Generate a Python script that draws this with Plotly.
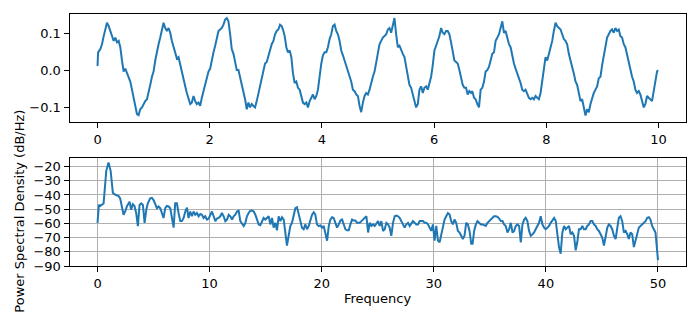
import plotly.graph_objects as go

# ---------------- top panel: signal vs time ----------------
time_s = [
    0.000, 0.010, 0.050, 0.080, 0.110, 0.139, 0.169, 0.199, 0.228, 0.258,
    0.288, 0.317, 0.347, 0.377, 0.406, 0.436, 0.466, 0.495, 0.525, 0.555,
    0.584, 0.614, 0.644, 0.673, 0.703, 0.732, 0.762, 0.792, 0.821, 0.851,
    0.881, 0.910, 0.940, 0.970, 0.999, 1.029, 1.059, 1.088, 1.118, 1.148,
    1.177, 1.207, 1.237, 1.266, 1.296, 1.326, 1.355, 1.385, 1.415, 1.444,
    1.474, 1.504, 1.533, 1.563, 1.592, 1.622, 1.652, 1.681, 1.711, 1.741,
    1.770, 1.800, 1.830, 1.859, 1.889, 1.919, 1.948, 1.978, 2.008, 2.037,
    2.067, 2.097, 2.126, 2.156, 2.186, 2.215, 2.245, 2.275, 2.304, 2.334,
    2.364, 2.393, 2.423, 2.452, 2.482, 2.512, 2.541, 2.571, 2.601, 2.630,
    2.660, 2.690, 2.719, 2.749, 2.779, 2.808, 2.838, 2.868, 2.897, 2.927,
    2.957, 2.986, 3.016, 3.046, 3.075, 3.105, 3.135, 3.164, 3.194, 3.224,
    3.253, 3.283, 3.313,
    3.336, 3.366, 3.395, 3.425, 3.455, 3.484, 3.514, 3.544, 3.573, 3.603,
    3.633, 3.662, 3.692, 3.722, 3.751, 3.781, 3.811, 3.840, 3.870, 3.900,
    3.929, 3.959, 3.989, 4.018, 4.048, 4.078, 4.107, 4.137, 4.166, 4.196,
    4.226, 4.255, 4.285, 4.315, 4.344, 4.374, 4.404, 4.433, 4.463, 4.493,
    4.522, 4.552, 4.582, 4.611, 4.641, 4.671, 4.700, 4.730, 4.760, 4.789,
    4.819, 4.849, 4.878, 4.908, 4.938, 4.967, 4.997, 5.026, 5.056, 5.086,
    5.116, 5.145, 5.175, 5.204, 5.234, 5.264, 5.293, 5.323, 5.353, 5.382,
    5.412, 5.442, 5.471, 5.501, 5.531, 5.560, 5.590, 5.620, 5.649, 5.679,
    5.709, 5.738, 5.768, 5.798, 5.827, 5.857, 5.886, 5.916, 5.946, 5.975,
    6.005, 6.035, 6.064, 6.094, 6.124, 6.153, 6.183, 6.213, 6.242, 6.272,
    6.302, 6.331, 6.361, 6.391, 6.420, 6.450, 6.480, 6.509, 6.539, 6.569,
    6.598, 6.628, 6.657,
    6.681, 6.711, 6.740, 6.770, 6.800, 6.829, 6.859, 6.889, 6.918, 6.948,
    6.978, 7.007, 7.037, 7.067, 7.096, 7.126, 7.156, 7.185, 7.215, 7.245,
    7.274, 7.304, 7.334, 7.363, 7.393, 7.423, 7.452, 7.482, 7.511, 7.541,
    7.571, 7.600, 7.630, 7.660, 7.689, 7.719, 7.749, 7.778, 7.808, 7.838,
    7.867, 7.897, 7.927, 7.956, 7.986, 8.016, 8.045, 8.075, 8.105, 8.134,
    8.164, 8.194, 8.223, 8.253, 8.283, 8.312, 8.342, 8.371, 8.401, 8.431,
    8.461, 8.490, 8.520, 8.549, 8.579, 8.609, 8.638, 8.668, 8.698, 8.727,
    8.757, 8.787, 8.816, 8.846, 8.876, 8.905, 8.935, 8.965, 8.994, 9.024,
    9.054, 9.083, 9.113, 9.143, 9.172, 9.202, 9.231, 9.261, 9.291, 9.320,
    9.350, 9.380, 9.409, 9.439, 9.469, 9.498, 9.528, 9.558, 9.587, 9.617,
    9.647, 9.676, 9.706, 9.736, 9.765, 9.795, 9.825, 9.854, 9.884, 9.914,
    9.943, 9.973, 9.990,
]

signal = [
    0.011, 0.048, 0.057, 0.070, 0.092, 0.114, 0.128, 0.119, 0.106, 0.092,
    0.079, 0.088, 0.075, 0.079, 0.062, 0.026, -0.004, 0.004, -0.009, -0.018,
    -0.031, -0.053, -0.079, -0.101, -0.119, -0.122, -0.106, -0.101, -0.092, -0.084,
    -0.079, -0.062, -0.040, -0.018, -0.004, 0.026, 0.053, 0.070, 0.088, 0.110,
    0.128, 0.114, 0.106, 0.114, 0.101, 0.079, 0.062, 0.044, 0.031, 0.035,
    0.013, -0.004, -0.026, -0.044, -0.062, -0.079, -0.092, -0.088, -0.070, -0.084,
    -0.092, -0.088, -0.097, -0.075, -0.057, -0.044, -0.026, -0.004, 0.004, 0.031,
    0.048, 0.066, 0.088, 0.106, 0.110, 0.114, 0.123, 0.137, 0.141, 0.132,
    0.097, 0.057, 0.044, 0.018, 0.000, 0.000, -0.018, -0.044, -0.062, -0.079,
    -0.106, -0.088, -0.101, -0.092, -0.097, -0.101, -0.084, -0.062, -0.044, -0.018,
    0.000, 0.018, 0.022, 0.040, 0.057, 0.070, 0.079, 0.097, 0.106, 0.110,
    0.123, 0.119, 0.106,
    0.092, 0.062, 0.048, 0.053, 0.035, -0.009, -0.035, -0.031, -0.048, -0.053,
    -0.070, -0.088, -0.092, -0.088, -0.101, -0.084, -0.075, -0.066, -0.079, -0.070,
    -0.053, -0.009, 0.018, 0.040, 0.048, 0.048, 0.062, 0.084, 0.097, 0.119,
    0.123, 0.106, 0.097, 0.079, 0.053, 0.040, 0.026, 0.009, 0.000, -0.013,
    -0.031, -0.053, -0.057, -0.066, -0.070, -0.097, -0.114, -0.088, -0.070, -0.062,
    -0.066, -0.053, -0.031, -0.018, -0.004, 0.018, 0.044, 0.070, 0.079, 0.088,
    0.092, 0.097, 0.110, 0.114, 0.101, 0.119, 0.141, 0.097, 0.062, 0.066,
    0.053, 0.044, 0.035, 0.009, -0.026, -0.040, -0.048, -0.066, -0.079, -0.101,
    -0.092, -0.053, -0.044, -0.062, -0.048, -0.044, -0.053, -0.035, -0.018, 0.013,
    0.053, 0.066, 0.079, 0.092, 0.114, 0.101, 0.097, 0.106, 0.106, 0.097,
    0.075, 0.044, 0.026, 0.022, 0.018, 0.000, -0.018, -0.040, -0.048, -0.048,
    -0.066, -0.057, -0.062,
    -0.057, -0.075, -0.079, -0.092, -0.101, -0.053, -0.048, -0.031, -0.004, 0.000,
    0.009, 0.026, 0.044, 0.048, 0.079, 0.088, 0.097, 0.114, 0.132, 0.101,
    0.106, 0.088, 0.070, 0.062, 0.035, 0.018, 0.004, -0.009, -0.018, -0.035,
    -0.053, -0.057, -0.053, -0.062, -0.075, -0.079, -0.075, -0.079, -0.070, -0.075,
    -0.079, -0.062, -0.026, 0.000, 0.035, 0.026, 0.044, 0.062, 0.079, 0.106,
    0.128, 0.119, 0.114, 0.110, 0.097, 0.084, 0.079, 0.070, 0.044, 0.026,
    0.013, -0.009, -0.031, -0.040, -0.062, -0.084, -0.079, -0.097, -0.123, -0.106,
    -0.114, -0.092, -0.075, -0.062, -0.053, -0.044, -0.022, -0.018, 0.013, 0.035,
    0.066, 0.088, 0.097, 0.106, 0.110, 0.101, 0.114, 0.106, 0.110, 0.092,
    0.088, 0.070, 0.062, 0.040, 0.022, 0.004, -0.018, -0.031, -0.053, -0.062,
    -0.057, -0.066, -0.088, -0.101, -0.092, -0.070, -0.075, -0.079, -0.084, -0.057,
    -0.026, -0.004, 0.000,
]

# ---------------- bottom panel: PSD ----------------
freq_hz = [
    0.00, 0.12, 0.24, 0.39, 0.54, 0.78, 0.98, 1.17, 1.37, 1.58,
    1.88, 2.02, 2.17, 2.32, 2.47, 2.62, 2.86, 3.00, 3.15, 3.30,
    3.45, 3.60, 3.75, 3.90, 4.05, 4.20, 4.35, 4.49, 4.70, 4.85,
    5.00, 5.15, 5.30, 5.45, 5.60, 5.74, 5.89, 6.04, 6.19, 6.34,
    6.49, 6.64, 6.79, 6.93, 7.08, 7.23, 7.38, 7.53, 7.68, 7.83,
    7.98, 8.12, 8.27, 8.42, 8.57, 8.72, 8.87, 9.02, 9.17, 9.32,
    9.46, 9.61, 9.76, 9.91, 10.06, 10.21, 10.36, 10.51, 10.65, 10.80,
    10.95, 11.10, 11.25, 11.40, 11.55, 11.70, 11.85, 12.00, 12.14, 12.29,
    12.44, 12.59, 12.74, 12.89, 13.04, 13.19, 13.33, 13.48, 13.63, 13.78,
    13.93, 14.08, 14.23, 14.38, 14.52, 14.67, 14.82, 14.97, 15.12, 15.27,
    15.42, 15.57, 15.71, 15.86, 16.01, 16.16, 16.31, 16.46, 16.61, 16.76,
    16.90, 17.05, 17.20, 17.35, 17.50, 17.65, 17.80, 17.95, 18.10, 18.24,
    18.39, 18.54, 18.69, 18.84, 18.99, 19.14, 19.29, 19.43, 19.58, 19.73,
    19.88, 20.03, 20.18, 20.33, 20.48, 20.63, 20.77, 20.92, 21.07, 21.22,
    21.37, 21.52, 21.67, 21.82, 21.96, 22.11, 22.26, 22.41, 22.56, 22.71,
    22.86, 23.01, 23.15,
    23.39, 23.54, 23.69, 23.84, 23.99, 24.14, 24.28, 24.43, 24.58, 24.73,
    24.88, 25.03, 25.17, 25.32, 25.47, 25.62, 25.77, 25.92, 26.06, 26.21,
    26.36, 26.51, 26.66, 26.81, 26.95, 27.10, 27.25, 27.40, 27.55, 27.70,
    27.85, 27.99, 28.14, 28.29, 28.44, 28.59, 28.74, 28.88, 29.03, 29.18,
    29.33, 29.48, 29.63, 29.77, 29.92, 30.07, 30.22, 30.37, 30.52, 30.66,
    30.81, 30.96, 31.11, 31.26, 31.41, 31.55, 31.70, 31.85, 32.00, 32.15,
    32.30, 32.45, 32.59, 32.74, 32.89, 33.04, 33.19, 33.34,
    33.46, 33.60, 33.75, 33.90, 34.05, 34.20, 34.35, 34.49, 34.64, 34.79,
    34.94, 35.09, 35.24, 35.38, 35.53, 35.68, 35.83, 35.98, 36.13, 36.27,
    36.42, 36.57, 36.72, 36.87, 37.02, 37.17, 37.31, 37.46, 37.61, 37.76,
    37.91, 38.06, 38.20, 38.35, 38.50, 38.65, 38.80, 38.95, 39.09, 39.24,
    39.39, 39.54, 39.69, 39.84, 39.98, 40.13, 40.28, 40.43, 40.58, 40.73,
    40.88, 41.02, 41.17, 41.32, 41.47, 41.62, 41.77, 41.91, 42.06, 42.21,
    42.36, 42.51, 42.66, 42.80, 42.95, 43.10, 43.25, 43.40, 43.55, 43.69,
    43.84, 43.99, 44.14, 44.29, 44.44, 44.58, 44.73, 44.88, 45.03, 45.18,
    45.33, 45.48, 45.62, 45.77, 45.92, 46.07, 46.22, 46.37, 46.51, 46.66,
    46.81, 46.96, 47.11, 47.26, 47.40, 47.55, 47.70, 47.85, 48.00, 48.15,
    48.29, 48.44, 48.59, 48.74, 48.89, 49.04, 49.19, 49.33, 49.48, 49.63,
    49.78, 50.00,
]

psd_db = [
    -59.6, -47.0, -47.7, -46.5, -46.0, -23.0, -17.2, -23.0, -38.5, -39.7,
    -40.8, -42.4, -48.0, -53.9, -51.6, -48.0, -44.7, -50.4, -46.5, -47.7,
    -52.7, -61.9, -47.0, -45.9, -47.0, -59.6, -50.4, -45.9, -42.4, -42.0,
    -43.6, -47.0, -49.3, -48.1, -49.3, -52.7, -56.2, -49.3, -47.7, -48.1,
    -49.3, -56.2, -63.0, -45.9, -45.9, -52.7, -58.4, -58.4, -56.2, -51.6,
    -48.9, -56.2, -51.6, -55.0, -51.6, -53.9, -52.7, -55.0, -53.4, -53.9,
    -56.2, -55.0, -57.3, -56.6, -53.9, -51.6, -55.0, -58.4, -56.6, -56.2,
    -55.0, -52.7, -55.0, -58.4, -57.3, -53.9, -55.0, -57.3, -55.0, -53.9,
    -51.6, -51.1, -58.4, -60.7, -61.9, -59.6, -55.0, -52.7, -51.1, -50.9,
    -51.6, -53.9, -57.3, -60.7, -61.2, -58.4, -56.2, -57.3, -56.2, -55.0,
    -60.7, -56.2, -63.0, -59.6, -64.9, -55.0, -58.4, -55.7, -57.3, -67.6,
    -75.6, -68.7, -61.9, -59.6, -55.0, -49.3, -48.6, -52.7, -58.4, -63.0,
    -64.1, -60.7, -64.1, -61.9, -58.4, -53.9, -52.2, -53.9, -60.7, -61.9,
    -61.4, -63.0, -61.9, -66.5, -72.2, -61.9, -57.3, -55.7, -56.2, -59.6,
    -63.0, -60.7, -58.0, -57.3, -60.7, -64.1, -64.9, -64.9, -60.7, -57.3,
    -58.0, -58.0, -59.6,
    -59.6, -58.4, -57.3, -56.1, -55.0, -66.4, -59.6, -61.8, -60.7, -61.8,
    -59.6, -58.4, -61.8, -58.4, -65.3, -64.1, -59.6, -60.7, -63.0, -68.7,
    -59.6, -55.0, -54.5, -55.0, -56.1, -58.4, -61.8, -63.0, -60.7, -59.6,
    -61.8, -59.6, -58.4, -59.6, -60.7, -60.7, -58.4, -58.4, -58.4, -59.6,
    -59.6, -60.7, -63.0, -65.3, -60.7, -72.1, -61.8, -72.1, -73.3, -67.6,
    -61.8, -57.3, -55.0, -52.7, -53.8, -58.4, -60.7, -57.3, -59.6, -65.3,
    -66.4, -68.7, -71.0, -68.7, -59.6, -60.7, -65.3, -74.4,
    -74.4, -65.3, -60.7, -58.4, -59.6, -60.7, -60.7, -61.2, -61.8, -59.6,
    -58.4, -57.3, -56.1, -55.0, -55.0, -55.4, -56.6, -58.4, -58.4, -60.7,
    -61.8, -66.4, -64.1, -59.6, -66.4, -65.3, -61.8, -60.7, -61.8, -73.3,
    -60.7, -57.3, -56.1, -58.4, -65.3, -68.7, -67.6, -66.4, -64.1, -61.8,
    -59.6, -55.0, -60.7, -63.0, -64.1, -63.0, -61.8, -59.6, -57.3, -56.1,
    -58.4, -68.7, -76.7, -81.3, -66.4, -61.8, -64.1, -63.0, -61.8, -67.6,
    -66.4, -68.7, -79.0, -73.3, -64.1, -64.1, -61.8, -64.1, -64.1, -61.8,
    -60.7, -58.4, -58.4, -60.7, -61.8, -64.1, -65.3, -67.6, -69.9, -75.6,
    -69.9, -63.0, -60.7, -61.8, -64.1, -68.7, -71.0, -63.0, -56.1, -55.0,
    -58.4, -66.4, -65.3, -67.6, -71.0, -66.4, -67.6, -76.7, -72.1, -67.6,
    -63.0, -61.8, -60.7, -59.6, -58.4, -56.1, -55.7, -57.3, -61.8, -64.1,
    -66.4, -85.9,
]

top_xticks = [0, 2, 4, 6, 8, 10]
top_yticks = [-0.1, 0.0, 0.1]
top_yticktext = ["\u22120.1", "0.0", "0.1"]
bot_xticks = [0, 10, 20, 30, 40, 50]
bot_yticks = [-20, -30, -40, -50, -60, -70, -80, -90]

LINE = "#1f77b4"
FONT = "DejaVu Sans"
FS = 13

fig = go.Figure()
fig.add_trace(go.Scatter(x=time_s, y=signal, mode="lines",
                         line=dict(color=LINE, width=2), xaxis="x", yaxis="y",
                         showlegend=False, hoverinfo="skip"))
fig.add_trace(go.Scatter(x=freq_hz, y=psd_db, mode="lines",
                         line=dict(color=LINE, width=2), xaxis="x2", yaxis="y2",
                         showlegend=False, hoverinfo="skip"))

W, H = 700, 327
xl, xr = 69.5, 686.0
dom_x = [xl / W, xr / W]
dom_top = [1 - 125.0 / H, 1 - 14.0 / H]
dom_bot = [1 - 272.7 / H, 1 - 161.7 / H]

common = dict(showline=True, linecolor="black", linewidth=1, mirror=True,
              ticks="outside", ticklen=5, tickwidth=1, tickcolor="black",
              zeroline=False, tickfont=dict(family=FONT, size=FS, color="black"))

fig.update_layout(
    width=W, height=H,
    margin=dict(l=0, r=0, t=0, b=0),
    paper_bgcolor="white", plot_bgcolor="white",
    font=dict(family=FONT, size=FS, color="black"),
    xaxis=dict(domain=dom_x, anchor="y", range=[-0.4995, 10.4895],
               tickvals=top_xticks, showgrid=False, **common),
    yaxis=dict(domain=dom_top, anchor="x", range=[-0.1404, 0.1528],
               tickvals=top_yticks, ticktext=top_yticktext, showgrid=False, **common),
    xaxis2=dict(domain=dom_x, anchor="y2", range=[-2.5, 52.5],
                tickvals=bot_xticks, showgrid=True, gridcolor="#b0b0b0", gridwidth=1,
                **common),
    yaxis2=dict(domain=dom_bot, anchor="x2", range=[-90, -13.8],
                tickvals=bot_yticks, showgrid=True, gridcolor="#b0b0b0", gridwidth=1,
                **common),
    annotations=[
        dict(text="Frequency", xref="paper", yref="paper",
             x=(xl + xr) / 2 / W, y=1 - 306.0 / H, xanchor="center", yanchor="middle",
             showarrow=False, font=dict(family=FONT, size=FS, color="black")),
        dict(text="Power Spectral Density (dB/Hz)", xref="paper", yref="paper",
             x=20.0 / W, y=1 - 217.0 / H, xanchor="center", yanchor="middle",
             textangle=-90, showarrow=False,
             font=dict(family=FONT, size=FS, color="black")),
    ],
)

fig.write_html("out.html")
